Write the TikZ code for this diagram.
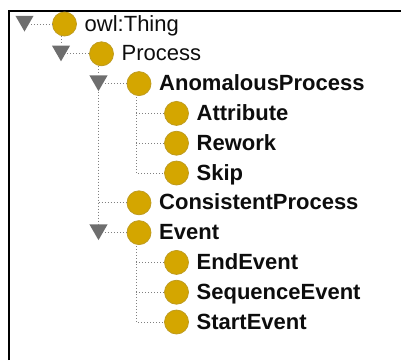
\documentclass[tikz,border=0pt]{standalone}
\usepackage{fontspec}
\setmainfont{Liberation Sans}
\usetikzlibrary{shapes.geometric}

\definecolor{owlgold}{RGB}{212,166,0}
\definecolor{togglegray}{RGB}{110,110,110}

\begin{document}
\begin{tikzpicture}[x=1pt, y=-1pt,
    cls/.style={circle, fill=owlgold, draw=owlgold!75!gray, line width=0.8pt, minimum size=24pt, inner sep=0pt},
    toggle/.style={regular polygon, regular polygon sides=3, shape border rotate=180, fill=togglegray, minimum size=21pt, inner sep=0pt},
    lbl/.style={anchor=base west, inner sep=0pt, text=black!95, font=\fontsize{22}{22}\selectfont},
    blbl/.style={lbl, font=\bfseries\fontsize{22}{22}\selectfont},
    tree/.style={dotted, line width=1pt, color=gray}]

    \useasboundingbox (0,0) rectangle (401,360);
    \draw[line width=2pt] (9,360) -- (9,11) -- (401,11);

    \node[toggle] (tthing) at (24.5, 21) {};
    \node[cls] (thing) at (64.5, 24) {};
    \node[lbl] (lthing) at (84.5, 31) {owl:Thing};

    \node[toggle] (tprocess) at (61, 50.8) {};
    \node[cls] (process) at (101.5, 53.8) {};
    \node[lbl] (lprocess) at (121.5, 60.8) {Process};

    \node[toggle] (tanom) at (98.5, 80.6) {};
    \node[cls] (anom) at (139, 83.6) {};
    \node[blbl] (lanom) at (159, 90.6) {AnomalousProcess};

    \node[cls] (attr) at (176.5, 113.4) {};
    \node[blbl] (lattr) at (196.5, 120.4) {Attribute};
    \node[cls] (rework) at (176.5, 143.2) {};
    \node[blbl] (lrework) at (196.5, 150.2) {Rework};
    \node[cls] (skip) at (176.5, 173) {};
    \node[blbl] (lskip) at (196.5, 180) {Skip};

    \node[cls] (consist) at (139, 202.8) {};
    \node[blbl] (lconsist) at (159, 209.8) {ConsistentProcess};

    \node[toggle] (tevent) at (98.5, 229.6) {};
    \node[cls] (event) at (139, 232.6) {};
    \node[blbl] (levent) at (159, 239.6) {Event};

    \node[cls] (endev) at (176.5, 262.4) {};
    \node[blbl] (lendev) at (196.5, 269.4) {EndEvent};
    \node[cls] (seqev) at (176.5, 292.2) {};
    \node[blbl] (lseqev) at (196.5, 299.2) {SequenceEvent};
    \node[cls] (startev) at (176.5, 322) {};
    \node[blbl] (lstartev) at (196.5, 329) {StartEvent};

    \coordinate (anomkids) at (136, 97);
    \coordinate (eventkids) at (136, 246);

    % toggles to their classes
    \draw[tree] (tthing.east |- thing) -- (thing.west);
    \draw[tree] (tprocess.east |- process) -- (process.west);
    \draw[tree] (tanom.east |- anom) -- (anom.west);
    \draw[tree] (tevent.east |- event) -- (event.west);

    % owl:Thing
    \draw[tree] (tprocess |- thing.south) -- (tprocess.north);

    % Process
    \draw[tree] (tanom |- process.south) -- (tanom.north);
    \draw[tree] (tanom.south) -- (tevent.north);
    \draw[tree] (tanom |- consist) -- (consist.west);

    % AnomalousProcess
    \draw[tree] (anomkids) -- (anomkids |- skip) -- (skip.west);
    \draw[tree] (anomkids |- attr) -- (attr.west);
    \draw[tree] (anomkids |- rework) -- (rework.west);

    % Event
    \draw[tree] (eventkids) -- (eventkids |- startev) -- (startev.west);
    \draw[tree] (eventkids |- endev) -- (endev.west);
    \draw[tree] (eventkids |- seqev) -- (seqev.west);

\end{tikzpicture}
\end{document}
